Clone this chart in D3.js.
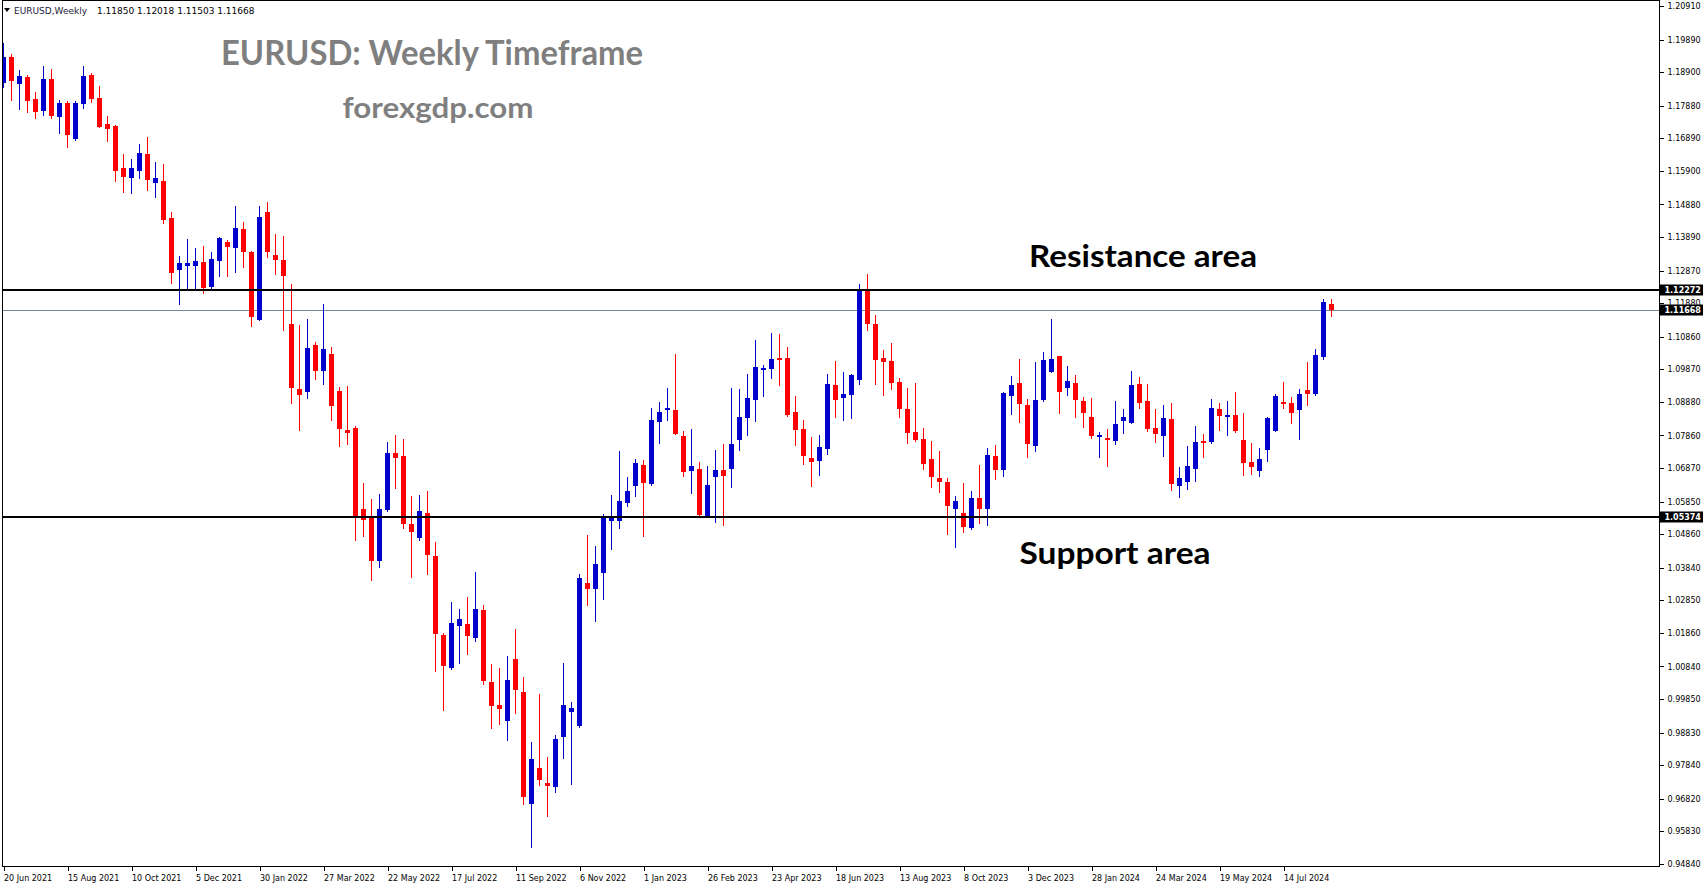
<!DOCTYPE html>
<html>
<head>
<meta charset="utf-8">
<script src="https://cdn.jsdelivr.net/npm/d3@7/dist/d3.min.js"></script>
<style>
  html, body { margin: 0; padding: 0; background: #ffffff; }
  svg { display: block; }
</style>
</head>
<body>
<svg id="chart" width="1705" height="888"></svg>
<script>
// ---------- DATA (EURUSD weekly) ----------
const startWeek = "2021-06-20";
const opens = [
1.1858,1.1937,1.1855,1.1875,1.1808,1.1773,1.1869,1.1755,1.1796,1.1688,
1.1794,1.1881,1.1811,1.1732,1.1726,1.1599,1.1569,1.1591,1.1641,1.1554,
1.1559,1.1447,1.1290,1.1301,1.1302,1.1313,1.1238,1.1317,1.1374,1.1357,
1.1413,1.1344,1.1138,1.1465,1.1334,1.1319,1.1125,1.0927,1.0919,1.1061,
1.0983,1.1034,1.0921,1.0803,1.0809,1.0563,1.0534,1.0405,1.0559,1.0733,
1.0724,1.0518,1.0475,1.0551,1.0420,1.0180,1.0080,1.0208,1.0213,1.0172,
1.0256,1.0037,0.9967,0.9919,1.0107,1.0007,0.9667,0.9775,0.9730,0.9719,
0.9871,0.9947,0.9904,1.0338,1.0321,1.0369,1.0527,1.0527,1.0582,1.0633,
1.0696,1.0639,1.0828,1.0863,1.0863,1.0784,1.0678,1.0684,1.0542,1.0660,
1.0681,1.0684,1.0772,1.0839,1.0894,1.0985,1.0988,1.1021,1.1021,1.0857,
1.0806,1.0718,1.0708,1.0745,1.0939,1.0900,1.0909,1.0955,1.1228,1.1125,
1.1021,1.1012,1.0948,1.0866,1.0796,1.0775,1.0714,1.0657,1.0645,1.0562,
1.0550,1.0505,1.0596,1.0562,1.0723,1.0681,1.0906,1.0945,1.0879,1.0754,
1.0894,1.0980,1.1026,1.0930,1.0945,1.0891,1.0842,1.0781,1.0778,1.0769,
1.0830,1.0824,1.0942,1.0891,1.0809,1.0784,1.0836,1.0632,1.0645,1.0684,
1.0770,1.0766,1.0866,1.0842,1.0848,1.0772,1.0705,1.0678,1.0742,1.0800,
1.0888,1.0885,1.0863,1.0924,1.0912,1.1024,1.11850];
const highs = [
1.1978,1.1945,1.1897,1.1882,1.1830,1.1909,1.1900,1.1805,1.1802,1.1802,
1.1909,1.1887,1.1848,1.1757,1.1728,1.1641,1.1626,1.1672,1.1693,1.1617,
1.1611,1.1465,1.1331,1.1383,1.1356,1.1362,1.1343,1.1389,1.1380,1.1483,
1.1435,1.1347,1.1483,1.1495,1.1398,1.1392,1.1246,1.1122,1.1140,1.1070,
1.1186,1.1055,1.0933,1.0936,1.0815,1.0642,1.0593,1.0608,1.0766,1.0787,
1.0775,1.0602,1.0605,1.0617,1.0462,1.0186,1.0280,1.0259,1.0295,1.0371,
1.0271,1.0092,1.0079,1.0116,1.0198,1.0052,0.9855,1.0000,0.9809,0.9876,
1.0095,0.9976,1.0365,1.0484,1.0450,1.0547,1.0604,1.0739,1.0660,1.0714,
1.0711,1.0869,1.0888,1.0930,1.1034,1.0800,1.0806,1.0705,1.0693,1.0742,
1.0760,1.0930,1.0927,1.0973,1.1076,1.1000,1.1097,1.1094,1.1055,1.0906,
1.0833,1.0781,1.0787,1.0973,1.1012,1.0979,1.0973,1.1245,1.1277,1.1152,
1.1046,1.1067,1.0961,1.0930,1.0945,1.0809,1.0769,1.0739,1.0657,1.0602,
1.0641,1.0617,1.0696,1.0748,1.0757,1.0917,1.0967,1.1018,1.0897,1.1009,
1.1040,1.1140,1.1028,1.0997,1.0970,1.0903,1.0900,1.0796,1.0806,1.0891,
1.0866,1.0982,1.0964,1.0942,1.0866,1.0879,1.0885,1.0690,1.0754,1.0815,
1.0790,1.0897,1.0885,1.0891,1.0918,1.0854,1.0763,1.0748,1.0842,1.0912,
1.0948,1.0903,1.0927,1.1009,1.1049,1.1201,1.12018];
const lows = [
1.1846,1.1805,1.1778,1.1770,1.1751,1.1760,1.1751,1.1706,1.1664,1.1685,
1.1782,1.1800,1.1722,1.1682,1.1560,1.1526,1.1523,1.1569,1.1533,1.1512,
1.1433,1.1250,1.1186,1.1235,1.1232,1.1220,1.1232,1.1272,1.1272,1.1284,
1.1299,1.1120,1.1136,1.1329,1.1278,1.1105,1.0886,1.0804,1.0901,1.0959,
1.0943,1.0834,1.0755,1.0761,1.0469,1.0482,1.0348,1.0387,1.0556,1.0627,
1.0506,1.0357,1.0469,1.0366,1.0071,0.9953,1.0077,1.0096,1.0123,1.0160,
1.0032,0.9898,0.9910,0.9862,0.9944,0.9667,0.9536,0.9725,0.9631,0.9704,
0.9807,0.9728,0.9901,1.0272,1.0223,1.0290,1.0442,1.0506,1.0572,1.0603,
1.0482,1.0635,1.0763,1.0833,1.0790,1.0663,1.0611,1.0541,1.0539,1.0523,
1.0514,1.0629,1.0742,1.0787,1.0830,1.0906,1.0961,1.0939,1.0845,1.0757,
1.0699,1.0632,1.0666,1.0730,1.0842,1.0833,1.0838,1.0942,1.1106,1.0942,
1.0909,1.0927,1.0842,1.0763,1.0769,1.0684,1.0629,1.0614,1.0487,1.0447,
1.0493,1.0502,1.0520,1.0514,1.0654,1.0663,1.0851,1.0827,1.0720,1.0739,
1.0891,1.0978,1.0855,1.0909,1.0842,1.0812,1.0778,1.0721,1.0693,1.0760,
1.0793,1.0823,1.0869,1.0800,1.0766,1.0724,1.0620,1.0599,1.0623,1.0648,
1.0720,1.0763,1.0803,1.0787,1.0797,1.0666,1.0669,1.0663,1.0708,1.0799,
1.0869,1.0824,1.0775,1.0879,1.0909,1.1018,1.11503];
const closes = [
1.1937,1.1864,1.1878,1.1803,1.1770,1.1869,1.1757,1.1796,1.1700,1.1796,
1.1878,1.1808,1.1724,1.1718,1.1591,1.1572,1.1599,1.1644,1.1563,1.1568,
1.1441,1.1281,1.1310,1.1310,1.1316,1.1235,1.1322,1.1386,1.1360,1.1416,
1.1342,1.1147,1.1450,1.1345,1.1320,1.1272,1.0931,1.0910,1.1052,1.0983,
1.1049,1.0877,1.0807,1.0795,1.0539,1.0530,1.0405,1.0563,1.0733,1.0719,
1.0518,1.0494,1.0557,1.0424,1.0184,1.0086,1.0216,1.0228,1.0178,1.0259,
1.0041,0.9965,0.9956,1.0043,1.0014,0.9688,0.9803,0.9740,0.9722,0.9864,
0.9967,0.9958,1.0353,1.0321,1.0396,1.0535,1.0535,1.0587,1.0617,1.0702,
1.0643,1.0833,1.0857,1.0869,1.0790,1.0675,1.0693,1.0544,1.0635,1.0682,
1.0663,1.0760,1.0842,1.0900,1.0994,1.0991,1.1018,1.1015,1.0848,1.0803,
1.0724,1.0705,1.0751,1.0942,1.0894,1.0912,1.0970,1.1228,1.1125,1.1015,
1.1009,1.0945,1.0866,1.0793,1.0772,1.0699,1.0660,1.0645,1.0572,1.0587,
1.0508,1.0596,1.0562,1.0727,1.0681,1.0915,1.0939,1.0882,1.0760,1.0894,
1.1015,1.1017,1.0919,1.0951,1.0894,1.0854,1.0784,1.0787,1.0775,1.0821,
1.0842,1.0939,1.0885,1.0806,1.0790,1.0839,1.0639,1.0657,1.0693,1.0766,
1.0766,1.0869,1.0845,1.0848,1.0800,1.0702,1.0690,1.0714,1.0839,1.0906,
1.0882,1.0854,1.0912,1.0912,1.1031,1.1192,1.11668];

const priceTicks = [1.20910,1.19890,1.18900,1.17880,1.16890,1.15900,1.14880,1.13890,1.12870,1.11880,
  1.10860,1.09870,1.08880,1.07860,1.06870,1.05850,1.04860,1.03840,1.02850,1.01860,
  1.00840,0.99850,0.98830,0.97840,0.96820,0.95830,0.94840];
const dateTickLabels = ["20 Jun 2021","15 Aug 2021","10 Oct 2021","5 Dec 2021","30 Jan 2022","27 Mar 2022",
  "22 May 2022","17 Jul 2022","11 Sep 2022","6 Nov 2022","1 Jan 2023","26 Feb 2023","23 Apr 2023",
  "18 Jun 2023","13 Aug 2023","8 Oct 2023","3 Dec 2023","28 Jan 2024","24 Mar 2024","19 May 2024","14 Jul 2024"];
const resistanceLevel = 1.12272;
const supportLevel = 1.05374;
const lastPrice = 1.11668;
const headerSymbol = "EURUSD,Weekly";
const titleText = "EURUSD: Weekly Timeframe";
const siteText = "forexgdp.com";

// ---------- LAYOUT ----------
const W = 1705, H = 888;
const plotLeft = 2.5, plotRight = 1659.5, plotTop = 0.5, plotBottom = 866.5;
const bull = "#0000cc", bear = "#ff0000";

const svg = d3.select("#chart");
const start = d3.utcParse("%Y-%m-%d")(startWeek);
const candles = opens.map((o, i) => ({
  date: d3.utcDay.offset(start, 7 * i),
  o, h: highs[i], l: lows[i], c: closes[i]
}));

const x = d3.scaleUtc()
  .domain([candles[0].date, candles[candles.length - 1].date])
  .range([3.5, 3.5 + 8 * (candles.length - 1)]);
const y = d3.scaleLinear().domain([0.94778, 1.21092]).range([866, 0]);
const py = v => Math.round(y(v));

svg.append("rect").attr("width", W).attr("height", H).attr("fill", "#fff");

svg.append("defs").append("clipPath").attr("id", "plotclip")
  .append("rect").attr("x", plotLeft).attr("y", plotTop)
  .attr("width", plotRight - plotLeft).attr("height", plotBottom - plotTop);

const plot = svg.append("g").attr("clip-path", "url(#plotclip)");

// texts in chart
svg.append("text").attr("x", 432).attr("y", 65).attr("text-anchor", "middle")
  .attr("font-family", "Lato, 'Open Sans', sans-serif").attr("font-weight", 700)
  .attr("font-size", 35).attr("fill", "#7f7f7f")
  .attr("textLength", 422).attr("lengthAdjust", "spacingAndGlyphs").text(titleText);
svg.append("text").attr("x", 438).attr("y", 118).attr("text-anchor", "middle")
  .attr("font-family", "Lato, 'Open Sans', sans-serif").attr("font-weight", 700)
  .attr("font-size", 29).attr("fill", "#7f7f7f")
  .attr("textLength", 191).attr("lengthAdjust", "spacingAndGlyphs").text(siteText);
svg.append("text").attr("x", 1143).attr("y", 267).attr("text-anchor", "middle")
  .attr("font-family", "Lato, 'Open Sans', sans-serif").attr("font-weight", 700)
  .attr("font-size", 30).attr("fill", "#000")
  .attr("textLength", 228).attr("lengthAdjust", "spacingAndGlyphs").text("Resistance area");
svg.append("text").attr("x", 1115).attr("y", 564).attr("text-anchor", "middle")
  .attr("font-family", "Lato, 'Open Sans', sans-serif").attr("font-weight", 700)
  .attr("font-size", 30).attr("fill", "#000")
  .attr("textLength", 191).attr("lengthAdjust", "spacingAndGlyphs").text("Support area");

// current price line
plot.append("line").attr("x1", plotLeft).attr("x2", plotRight)
  .attr("y1", Math.round(y(lastPrice)) + 0.5).attr("y2", Math.round(y(lastPrice)) + 0.5)
  .attr("stroke", "#778899").attr("stroke-width", 1);

// candles
const cg = plot.append("g").attr("shape-rendering", "crispEdges");
cg.selectAll("line.wick").data(candles).join("line")
  .attr("class", "wick")
  .attr("x1", d => x(d.date)).attr("x2", d => x(d.date))
  .attr("y1", d => py(d.h)).attr("y2", d => py(d.l) + 1)
  .attr("stroke", d => d.c >= d.o ? bull : bear).attr("stroke-width", 1);
cg.selectAll("rect.body").data(candles).join("rect")
  .attr("class", "body")
  .attr("x", d => x(d.date) - 2.5).attr("width", 5)
  .attr("y", d => Math.min(py(d.o), py(d.c)))
  .attr("height", d => Math.max(2, Math.abs(py(d.o) - py(d.c))))
  .attr("fill", d => d.c >= d.o ? bull : bear);

[resistanceLevel, supportLevel].forEach(v => {
  plot.append("line").attr("x1", plotLeft).attr("x2", plotRight)
    .attr("y1", Math.round(y(v))).attr("y2", Math.round(y(v)))
    .attr("stroke", "#000").attr("stroke-width", 2).attr("shape-rendering", "crispEdges");
});

// frame
svg.append("rect").attr("x", plotLeft).attr("y", plotTop)
  .attr("width", plotRight - plotLeft).attr("height", plotBottom - plotTop)
  .attr("fill", "none").attr("stroke", "#000").attr("stroke-width", 1);

// right price axis
const yAxis = d3.axisRight(y).tickValues(priceTicks).tickFormat(d3.format(".5f"))
  .tickSize(4).tickPadding(4);
const ya = svg.append("g").attr("transform", `translate(${plotRight},0)`).call(yAxis);
ya.select(".domain").remove();
ya.selectAll("text").attr("font-family", "'DejaVu Sans', sans-serif").attr("font-size", 8).attr("fill", "#000");
ya.selectAll("line").attr("stroke", "#000").attr("shape-rendering", "crispEdges");

// bottom date axis
const parseLbl = d3.utcParse("%d %b %Y");
const xAxis = d3.axisBottom(x).tickValues(dateTickLabels.map(parseLbl))
  .tickFormat(d3.utcFormat("%-d %b %Y")).tickSize(4).tickPadding(5);
const xa = svg.append("g").attr("transform", `translate(0,${plotBottom})`).call(xAxis);
xa.select(".domain").remove();
xa.selectAll("text").attr("text-anchor", "start").attr("x", 0)
  .attr("font-family", "'DejaVu Sans', sans-serif").attr("font-size", 8).attr("fill", "#000");
xa.selectAll("line").attr("stroke", "#000").attr("shape-rendering", "crispEdges");

// price boxes on the axis
[[resistanceLevel, "#000"], [lastPrice, "#000"], [supportLevel, "#000"]].forEach(([v, col]) => {
  const yy = y(v);
  svg.append("rect").attr("x", plotRight + 0.5).attr("y", Math.round(yy) - 5.5)
    .attr("width", 43).attr("height", 11).attr("fill", col);
  svg.append("text").attr("x", plotRight + 5).attr("y", yy).attr("dy", "0.35em")
    .attr("font-family", "'DejaVu Sans', sans-serif").attr("font-size", 8).attr("font-weight", 700)
    .attr("fill", "#fff").text(d3.format(".5f")(v));
});

// header
const hdr = svg.append("g").attr("font-family", "'DejaVu Sans', sans-serif").attr("font-size", 9);
hdr.append("path").attr("d", "M4,8 L10,8 L7,12 Z").attr("fill", "#000");
hdr.append("text").attr("x", 14).attr("y", 11).attr("dy", "0.35em").attr("fill", "#1a1a3a").text(headerSymbol);
hdr.append("text").attr("x", 97).attr("y", 11).attr("dy", "0.35em").attr("fill", "#000")
  .text([opens[opens.length-1], highs[highs.length-1], lows[lows.length-1], closes[closes.length-1]]
    .map(d3.format(".5f")).join(" "));
</script>
</body>
</html>
